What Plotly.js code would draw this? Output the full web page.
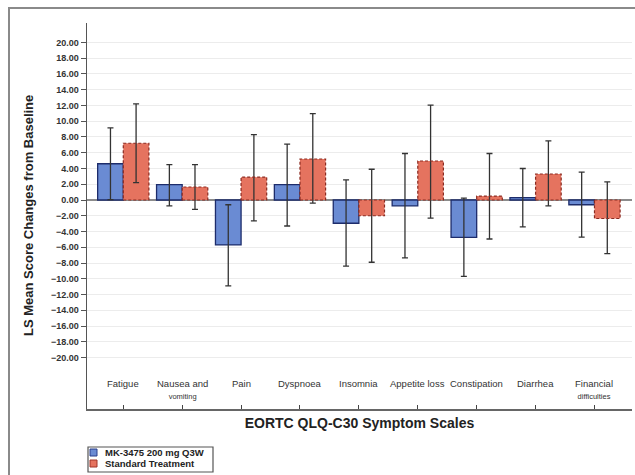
<!DOCTYPE html>
<html>
<head>
<meta charset="utf-8">
<script src="https://cdn.plot.ly/plotly-3.0.1.min.js"></script>
<style>
  html, body { margin: 0; padding: 0; background: #fff; }
  #wrap { position: relative; width: 635px; height: 475px; }
  #frame { position: absolute; left: 8px; top: 7px; width: 640px; height: 480px;
           border-top: 2px solid #8a8a8a; border-left: 2px solid #8a8a8a; pointer-events: none; }
  #chart { position: absolute; left: 0; top: 0; width: 635px; height: 475px; }
</style>
</head>
<body>
<div id="wrap">
  <div id="chart"></div>
  <div id="frame"></div>
</div>
<script>
// ---- data ----
const categories = ["Fatigue", "Nausea and vomiting", "Pain", "Dyspnoea", "Insomnia",
                    "Appetite loss", "Constipation", "Diarrhea", "Financial difficulties"];
const categoryLines1 = ["Fatigue", "Nausea and", "Pain", "Dyspnoea", "Insomnia",
                        "Appetite loss", "Constipation", "Diarrhea", "Financial"];
const categoryLines2 = ["", "vomiting", "", "", "", "", "", "", "difficulties"];

const seriesNames = ["MK-3475 200 mg Q3W", "Standard Treatment"];

const mkMean  = [4.6, 1.95, -5.7, 1.95, -2.95, -0.75, -4.75, 0.3, -0.6];
const mkUpper = [9.15, 4.5, -0.6, 7.1, 2.55, 5.9, 0.25, 4.0, 3.55];
const mkLower = [0.05, -0.75, -10.9, -3.3, -8.4, -7.35, -9.7, -3.4, -4.7];

const stdMean  = [7.2, 1.65, 2.9, 5.2, -2.0, 4.95, 0.5, 3.3, -2.35];
const stdUpper = [12.2, 4.5, 8.3, 10.95, 3.9, 12.05, 5.9, 7.5, 2.3];
const stdLower = [2.2, -1.2, -2.65, -0.4, -7.9, -2.3, -4.95, -0.75, -6.8];

const yTicks = [-20, -18, -16, -14, -12, -10, -8, -6, -4, -2, 0, 2, 4, 6, 8, 10, 12, 14, 16, 18, 20];

const xTitle = 'EORTC QLQ-C30 Symptom Scales';
const yTitle = 'LS Mean Score Changes from Baseline';

// ---- styles ----
const blueFill = '#6a8bd3', blueEdge = '#1d2c6b';
const redFill = '#e5735f', redEdge = '#8b2a20';
const bargap = 0.13;
const fontFam = '"Liberation Sans", Arial, sans-serif';

function errArrays(mean, up, lo) {
  return {
    type: 'data', symmetric: false,
    array: mean.map((m, i) => up[i] - m),
    arrayminus: mean.map((m, i) => m - lo[i]),
    color: '#333333', thickness: 1.3, width: 3
  };
}

const traces = [
  {
    type: 'bar', name: seriesNames[0], x: categories, y: mkMean,
    marker: { color: blueFill, line: { color: blueEdge, width: 1.3 } },
    error_y: errArrays(mkMean, mkUpper, mkLower), showlegend: false
  },
  {
    type: 'bar', name: seriesNames[1], x: categories, y: stdMean,
    marker: { color: redFill, line: { width: 0 } },
    error_y: errArrays(stdMean, stdUpper, stdLower), showlegend: false
  }
];

// dashed outline for the second series, following its bars on the category axis
const barW = (1 - bargap) / 2;
const shapes = stdMean.map((v, i) => ({
  type: 'rect', xref: 'x', yref: 'y', layer: 'above',
  x0: i, x1: i + barW, y0: 0, y1: v,
  line: { color: redEdge, width: 1.2, dash: '3px,2px' }, fillcolor: 'rgba(0,0,0,0)'
}));

// legend box (drawn in paper space below the axis)
const P = (px) => (px - 87) / 545;       // paper x from pixel
const Q = (py) => (409 - py) / 386;      // paper y from pixel
shapes.push({ type: 'rect', xref: 'paper', yref: 'paper', x0: P(88), x1: P(213), y0: Q(472), y1: Q(447),
  line: { color: '#555', width: 1.2 }, fillcolor: '#fff', layer: 'above' });
shapes.push({ type: 'rect', xref: 'paper', yref: 'paper', x0: P(90), x1: P(97), y0: Q(456), y1: Q(449),
  line: { color: '#2b3f8a', width: 1 }, fillcolor: blueFill, layer: 'above' });
shapes.push({ type: 'rect', xref: 'paper', yref: 'paper', x0: P(90), x1: P(97), y0: Q(467), y1: Q(460),
  line: { color: '#a03428', width: 1 }, fillcolor: redFill, layer: 'above' });

const annotations = categories.map((c, i) => ({
  x: c, xref: 'x', y: 0.085, yref: 'paper', yanchor: 'top', xanchor: 'center',
  showarrow: false, align: 'center',
  text: categoryLines1[i] + (categoryLines2[i] ? '<br><span style="font-size:7.5px;color:#333">' + categoryLines2[i] + '</span>' : ''),
  font: { family: fontFam, size: 9.5, color: '#333' }
}));
seriesNames.forEach((n, k) => annotations.push({
  x: P(103), xref: 'paper', y: Q(k === 0 ? 452.5 : 463.5), yref: 'paper',
  xanchor: 'left', yanchor: 'middle', showarrow: false, text: '<b>' + n + '</b>',
  font: { family: fontFam, size: 9.5, color: '#222' }
}));
annotations.push({
  x: P(28), xref: 'paper', y: Q(216), yref: 'paper', xanchor: 'center', yanchor: 'middle',
  textangle: -90, showarrow: false, text: '<b>' + yTitle + '</b>',
  font: { family: fontFam, size: 13, color: '#222' }
});

const layout = {
  width: 635, height: 475,
  margin: { l: 87, r: 3, t: 23, b: 66, autoexpand: false },
  paper_bgcolor: 'rgba(0,0,0,0)', plot_bgcolor: '#fff',
  barmode: 'group', bargap: bargap, bargroupgap: 0,
  showlegend: false,
  xaxis: {
    type: 'category', range: [-0.616, 8.637],
    tickmode: 'array', tickvals: categories,
    showticklabels: false, ticks: 'inside', ticklen: 4, tickcolor: '#444', tickwidth: 1,
    showline: true, linecolor: '#666', linewidth: 1.5, showgrid: false, zeroline: false,
    title: { text: xTitle, standoff: 8,
             font: { family: fontFam, size: 14, color: '#222', weight: 'bold' } },
    automargin: false, fixedrange: true
  },
  yaxis: {
    range: [-26.52, 22.46], tickvals: yTicks, tickformat: '.2f',
    ticks: 'outside', ticklen: 5, tickcolor: '#555',
    showline: true, linecolor: '#555', linewidth: 1.5,
    showgrid: true, gridcolor: '#ececec', gridwidth: 1,
    zeroline: true, zerolinecolor: '#8c8c8c', zerolinewidth: 1.5,
    tickfont: { family: fontFam, size: 9, color: '#333', weight: 'bold' },
    automargin: false, fixedrange: true
  },
  shapes: shapes,
  annotations: annotations
};

Plotly.newPlot('chart', traces, layout, { displayModeBar: false, staticPlot: true });
</script>
</body>
</html>
